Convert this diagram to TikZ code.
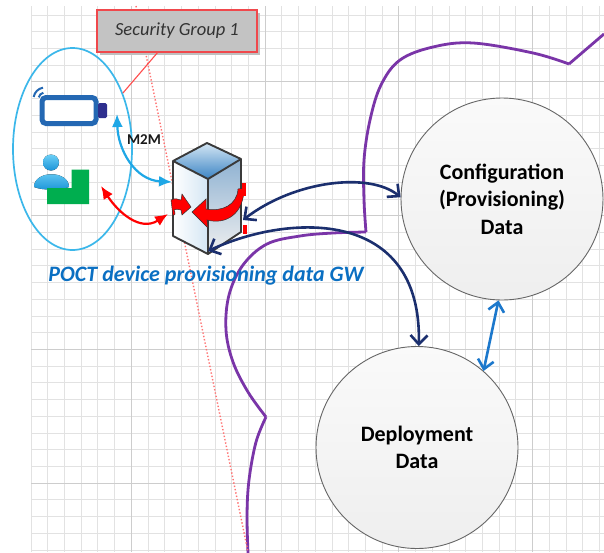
\documentclass[tikz,border=0pt]{standalone}
\usepackage{fontspec}
\setmainfont{Carlito}
\usetikzlibrary{arrows.meta,shapes.geometric}
\definecolor{gridminor}{HTML}{E2E2E2}
\definecolor{gridmajor}{HTML}{CDCDCD}
\definecolor{grpblue}{HTML}{3BB7EA}
\definecolor{m2mblue}{HTML}{1EA7E6}
\definecolor{navy}{HTML}{1B2F6E}
\definecolor{linkblue}{HTML}{1C78CC}
\definecolor{zone}{HTML}{7A35A8}
\definecolor{gwtext}{HTML}{0A6FC2}
\definecolor{battblue}{HTML}{2468B3}
\definecolor{battcap}{HTML}{2E2F8E}
\definecolor{persontop}{HTML}{6CCFF6}
\definecolor{personbot}{HTML}{1B94D8}
\definecolor{greenL}{HTML}{00AE4F}
\definecolor{secfill}{HTML}{C3C3C3}
\definecolor{secedge}{HTML}{F0484C}
\definecolor{cubeedge}{HTML}{3A3A3A}
\definecolor{cubetop}{HTML}{3B84C4}
\definecolor{cubelight}{HTML}{D4E6F4}
\definecolor{cubeside}{HTML}{8FB2D2}
\tikzset{
  gridline/.style={draw=gridminor, line width=0.8pt},
  gridline major/.style={draw=gridmajor, line width=1.1pt},
  datastore/.style={circle, draw=black!60, line width=0.9pt, minimum size=202pt,
    top color=gray!4, bottom color=gray!13, align=center,
    font=\fontsize{22}{27.5}\selectfont\bfseries},
  secbox/.style={rectangle, draw=secedge, line width=1.6pt, fill=secfill,
    minimum width=160pt, minimum height=42pt,
    font=\fontsize{18.5}{20}\selectfont\itshape, text=black!80},
  m2mlink/.style={draw=m2mblue, line width=2.2pt, {Latex[length=13pt,width=11pt]}-{Latex[length=13pt,width=11pt]}},
  ctrllink/.style={draw=red, line width=2.2pt, {Latex[length=13pt,width=11pt]}-{Latex[length=13pt,width=11pt]}},
  datalink/.style={draw=navy, line width=2.6pt, {Straight Barb[length=9pt,width=17pt]}-{Straight Barb[length=9pt,width=17pt]}},
  synclink/.style={draw=linkblue, line width=2.6pt, {Straight Barb[length=9pt,width=16pt]}-{Straight Barb[length=9pt,width=16pt]}},
  zoneline/.style={draw=zone, line width=2.8pt, line join=round},
  cubeface/.style={draw=cubeedge, line width=1.9pt, line join=round},
}
\begin{document}
\begin{tikzpicture}[x=1pt,y=-1pt]
\useasboundingbox (0,0) rectangle (604,552);
\fill[white] (0,0) rectangle (604,552);

% background grid
\foreach \i in {0,...,34} \draw[gridline] ({31+16.72*\i},6) -- ({31+16.72*\i},552);
\foreach \j in {0,...,32} \draw[gridline] (31,{15+16.72*\j}) -- (604,{15+16.72*\j});
\foreach \i in {6,14,22,30} \draw[gridline major] ({31+16.72*\i},6) -- ({31+16.72*\i},552);
\foreach \j in {4,12,20,28} \draw[gridline major] (31,{15+16.72*\j}) -- (604,{15+16.72*\j});

% security zone boundary
\draw[zoneline] (604,34) -- (569,64);
\draw[zoneline] plot[smooth, tension=0.6] coordinates {(569,64) (533,53) (473,43) (433,47) (400,60) (381,85) (370,120) (364,160) (364,200) (366,232)};
\draw[zoneline] plot[smooth, tension=0.6] coordinates {(366,232) (333,233) (300,236) (267,244) (243,265) (229,295) (226,330) (233,362) (248,392) (266,417)};
\draw[zoneline] plot[smooth, tension=0.6] coordinates {(266,417) (256,442) (249,480) (247,515) (248,553)};

% dotted separation line
\draw[red!55, line width=1.4pt, dotted] (136,6) -- (248,552);

% device group
\node[ellipse, draw=grpblue, line width=1.7pt, minimum width=119pt, minimum height=202pt] (grp) at (72.5,149) {};

% security group label
\fill[black!25] (100,13) rectangle (260,55);
\node[secbox] (sec) at (177,31) {Security Group 1};
\draw[red!70, line width=1.1pt] (sec.228) -- (grp.48);

% battery device
\node[minimum width=67pt, minimum height=31pt, inner sep=0pt] (batt) at (73,111) {};
\draw[battblue, line width=5pt, rounded corners=4pt, fill=white] (42,97.5) rectangle (96,123.5);
\fill[battcap, rounded corners=1.5pt] (98,103) rectangle (107,118);
\draw[battblue, line width=2pt] (45,99) ++(195:6.5) arc[start angle=195, end angle=255, radius=6.5];
\draw[battblue, line width=2pt] (45,99) ++(190:11.5) arc[start angle=190, end angle=260, radius=11.5];
\coordinate (battport) at (117,114);

% operator
\node[minimum width=55pt, minimum height=50pt, inner sep=0pt] (oper) at (62,180) {};
\fill[top color=persontop, bottom color=personbot] (51,162.5) circle[radius=8];
\fill[top color=persontop, bottom color=personbot] (34,187) .. controls (34,170) and (69,170) .. (69,187) .. controls (60,190.5) and (43,190.5) .. cycle;
\fill[greenL] (71.5,169.5) -- (89,169.5) -- (89,204) -- (47,204) -- (47,188) -- (71.5,188) -- cycle;
\coordinate (operport) at (101,186);

% gateway server
\node[minimum width=68pt, minimum height=112pt, inner sep=0pt] (gw) at (207,198) {};
\coordinate (T) at (207,143);
\coordinate (L) at (173,161);
\coordinate (F) at (208,179);
\coordinate (R) at (241,159);
\coordinate (LB) at (173,236);
\coordinate (FB) at (208,254);
\coordinate (RB) at (241,232);
\fill[left color=white, right color=cubelight] (L) -- (F) -- (FB) -- (LB) -- cycle;
\fill[top color=cubeside, bottom color=gray!12] (F) -- (R) -- (RB) -- (FB) -- cycle;
\fill[top color=cubelight, bottom color=cubetop] (T) -- (R) -- (F) -- (L) -- cycle;
\draw[cubeface] (T) -- (R) -- (RB) -- (FB) -- (LB) -- (L) -- cycle;
\draw[cubeface] (L) -- (F) -- (R);
\draw[cubeface] (F) -- (FB);
% rotating arrow around the server
\filldraw[fill=red, draw=black!80, line width=0.5pt] (244,188) .. controls (244,214) and (226,225) .. (207,220)
  -- (208,228) -- (192,212) -- (206,199) -- (206,209) .. controls (222,212) and (237,205) .. (238,189) -- cycle;
\filldraw[fill=red, draw=black!80, line width=0.5pt] (171,200) .. controls (175,198) and (178,199) .. (181,200) -- (182,194) -- (191,207) -- (182,215) -- (181,210) .. controls (178,209) and (175,209) .. (174,210)
  .. controls (176,213) and (175,216) .. (173,216) -- cycle;
\fill[red] (242,183) rectangle (246,196);
\fill[red] (243,225) rectangle (246.5,234);
\coordinate (gwin) at (172,182);
\coordinate (gwctl) at (168,214);
\coordinate (gwcfg) at (243,220);
\coordinate (gwdep) at (208,251);

% data stores
\node[datastore] (cfg) at (502,199) {Configuration\\(Provisioning)\\Data};
\node[datastore] (dep) at (417,447.5) {Deployment\\Data};

% links
\draw[m2mlink] (battport) .. controls (118,150) and (135,180) .. (gwin);
\node[font=\fontsize{15}{17}\selectfont\bfseries, text=black!90] (m2m) at (144,140) {M2M};
\draw[ctrllink] (operport) .. controls (118,212) and (140,232) .. (gwctl);
\draw[datalink] (gwcfg) .. controls (295,180) and (370,172) .. (cfg.179);
\draw[datalink] (gwdep) .. controls (290,213) and (422,208) .. (dep.89);
\draw[synclink] (cfg.268) -- (dep.49);

% gateway caption
\node[font=\fontsize{22}{26}\selectfont\bfseries\itshape, text=gwtext] (cap) at (206,276) {POCT device provisioning data GW};
\end{tikzpicture}
\end{document}
